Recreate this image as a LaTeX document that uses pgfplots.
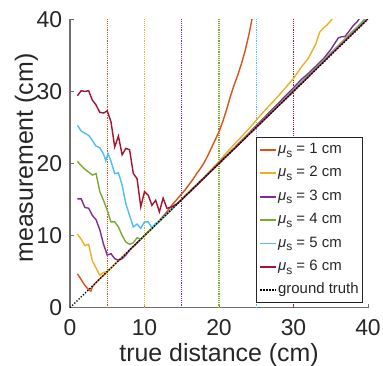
\documentclass[border=0pt]{standalone}
\usepackage{pgfplots}
\pgfplotsset{compat=1.18}
\usepackage{fontspec}
\setmainfont{Liberation Sans}
\definecolor{txt}{RGB}{38,38,38}
\definecolor{axc}{RGB}{110,110,110}
\definecolor{mcA}{RGB}{217,83,25}
\definecolor{mcB}{RGB}{237,177,32}
\definecolor{mcC}{RGB}{126,47,142}
\definecolor{mcD}{RGB}{119,172,48}
\definecolor{mcE}{RGB}{77,190,238}
\definecolor{mcF}{RGB}{162,20,47}
\newcommand{\mus}[1]{{\itshape μ}\raisebox{-0.45ex}{\fontsize{12}{12}\selectfont s} = #1 cm}
\begin{document}
\begin{tikzpicture}
\useasboundingbox (-70bp,-58.3bp) rectangle (313bp,307.7bp);
\begin{axis}[
  at={(0,0)}, anchor=south west,
  scale only axis, width=298bp, height=288.4bp,
  xmin=0, xmax=40, ymin=0, ymax=40,
  xtick={0,10,20,30,40}, ytick={0,10,20,30,40},
  axis lines*=left,
  axis line style={draw=axc, line width=1.1bp},
  tick align=inside, major tick length=4bp,
  tick style={draw=axc, line width=1bp},
  /pgf/number format/assume math mode=true,
  tick label style={font=\fontsize{23}{23}\selectfont, text=txt, inner sep=0pt},
  xticklabel style={anchor=north, yshift=-11.6bp},
  yticklabel style={anchor=east, xshift=-7.7bp},
  xlabel={true distance (cm)},
  ylabel={measurement (cm)},
  label style={font=\fontsize{25}{25}\selectfont, text=txt, inner sep=0pt},
  xlabel style={at={([yshift=-54bp]axis description cs:0.5,0)}, anchor=base},
  ylabel style={at={([xshift=-37bp]axis description cs:0,0.519)}, anchor=base, rotate=0},
  legend image code/.code={\draw[#1, line width=1.8bp] (0bp,0bp) -- (16bp,0bp);},
  legend cell align=left,
  legend style={at={(0.983,0.016)}, anchor=south east,
    font=\fontsize{15}{15}\selectfont,
    draw=txt, line width=0.8bp, fill=white, inner sep=2.8bp,
    row sep=4.4bp,
    nodes={inner sep=1bp, text height=12bp, text depth=5bp, text=txt}},
]
% vertical reference lines
\addplot[forget plot, draw=mcA, line width=1.2bp, dash pattern=on 1.2bp off 1bp] coordinates {(5,0)(5,40)};
\addplot[forget plot, draw=mcB, line width=1.2bp, dash pattern=on 1.2bp off 1bp] coordinates {(10,0)(10,40)};
\addplot[forget plot, draw=mcC, line width=1.2bp, dash pattern=on 1.2bp off 1bp] coordinates {(15,0)(15,40)};
\addplot[forget plot, draw=mcD, line width=1.2bp, dash pattern=on 1.2bp off 1bp] coordinates {(20,0)(20,40)};
\addplot[forget plot, draw=mcE, line width=1.2bp, dash pattern=on 1.2bp off 1bp] coordinates {(25,0)(25,40)};
\addplot[forget plot, draw=mcF, line width=1.2bp, dash pattern=on 1.2bp off 1bp] coordinates {(30,0)(30,40)};
% series
\addplot[draw=mcA, line width=1.4bp] coordinates {(1,4.7)(1.5,3.9)(2,3.1)(2.5,2.5)(2.8,2.3)(3,2.9)(3.5,3.5)(4,4.0)(5,5.0)(6,6.0)(7,7.0)(8,8.0)(9,9.0)(10,10.0)(11,11.0)(11.5,11.5)(12,12.1)(12.5,12.7)(13,13.3)(13.5,14.0)(14,14.6)(14.5,15.2)(15,15.8)(15.5,16.4)(16,17.1)(16.5,17.8)(17,18.6)(17.5,19.3)(18,20.1)(18.5,21.1)(19,22.2)(19.5,23.3)(20,24.4)(20.5,25.8)(21,27.4)(21.5,29.2)(22,30.8)(22.5,32.2)(23,33.8)(23.5,35.6)(24,37.8)(24.5,40.4)};
\addlegendentry{\mus{1}}
\addplot[draw=mcB, line width=1.4bp] coordinates {(1,10.2)(1.5,9.5)(2,8.6)(2.5,8.8)(3,6.5)(3.5,5.5)(4,4.5)(4.5,4.9)(5,5.0)(6,6.0)(8,8.0)(10,10.0)(12,12.0)(14,14.0)(16,16.1)(18,18.1)(19,19.2)(20,20.3)(21,21.5)(22,22.6)(23,23.7)(24,24.8)(25,26.0)(26,27.2)(27,28.3)(28,29.4)(29,30.6)(30,31.8)(31,33.3)(32,34.6)(32.5,35.6)(33,36.6)(33.5,38.2)(34,38.8)(34.5,39.2)(35,39.8)(35.4,40.4)};
\addlegendentry{\mus{2}}
\addplot[draw=mcC, line width=1.4bp] coordinates {(1,15.1)(1.5,15.1)(2,13.9)(2.5,13.8)(3,12.8)(3.5,12.2)(4,10.8)(4.5,8.8)(5,7.3)(5.5,7.5)(6,6.8)(6.5,6.6)(7,6.8)(7.5,7.3)(8,8.0)(10,10.0)(12,12.0)(14,14.0)(16,16.0)(18,18.0)(20,20.1)(22,22.1)(24,24.2)(26,26.3)(28,28.4)(30,30.5)(31,31.6)(32,32.5)(33,33.5)(34,34.5)(35,35.8)(35.5,36.6)(36,37.4)(36.5,37.6)(36.9,37.6)(37.5,38.4)(38,39.1)(38.5,39.6)(39,40.3)};
\addlegendentry{\mus{3}}
\addplot[draw=mcD, line width=1.4bp] coordinates {(1,20.3)(1.5,19.7)(2,19.2)(2.5,18.8)(3,18.4)(3.5,18.6)(4,16.1)(4.5,14.9)(5,13.5)(5.5,11.9)(6,11.9)(6.5,11.2)(7,10.0)(7.5,9.1)(8,8.8)(8.5,9.0)(9,9.7)(9.5,9.5)(10,10.0)(12,12.0)(15,15.0)(20,20.0)(25,25.1)(30,30.2)(35,35.3)(38,38.4)(39,39.4)(39.7,40.2)};
\addlegendentry{\mus{4}}
\addplot[draw=mcE, line width=1.4bp] coordinates {(1,25.3)(1.5,24.5)(2,24.2)(2.5,23.9)(3,23.2)(3.5,22.4)(4,22.2)(4.5,21.3)(4.8,20.4)(5.1,21.4)(5.5,20.3)(6,18.6)(6.5,18.7)(7,17.0)(7.5,14.4)(8,12.8)(8.5,11.2)(9,11.6)(9.5,11.0)(10,11.9)(10.5,11.9)(11,11.1)(11.5,11.7)(12,12.0)(15,15.0)(20,20.0)(25,25.0)(30,30.1)(35,35.2)(40,40.2)};
\addlegendentry{\mus{5}}
\addplot[draw=mcF, line width=1.4bp] coordinates {(1,29.4)(1.5,30.1)(2,30.0)(2.5,30.1)(3,28.8)(3.5,28.1)(4,27.1)(4.5,27.0)(5,27.3)(5.5,25.8)(6,22.3)(6.5,23.8)(7,21.2)(7.5,22.1)(8,21.9)(8.5,18.6)(9,17.9)(9.5,14.0)(10,16.1)(10.5,15.6)(11,14.2)(11.5,14.9)(12,13.3)(12.5,15.2)(13,13.8)(13.5,13.9)(14,14.2)(14.5,14.5)(15,15.0)(20,20.0)(25,25.0)(30,30.0)(35,35.1)(40,40.1)};
\addlegendentry{\mus{6}}
\addplot[draw=black, line width=1.3bp, dash pattern=on 1.3bp off 1.7bp] coordinates {(0,0)(40,40)};
\addlegendentry{ground truth}
\end{axis}
\end{tikzpicture}
\end{document}
